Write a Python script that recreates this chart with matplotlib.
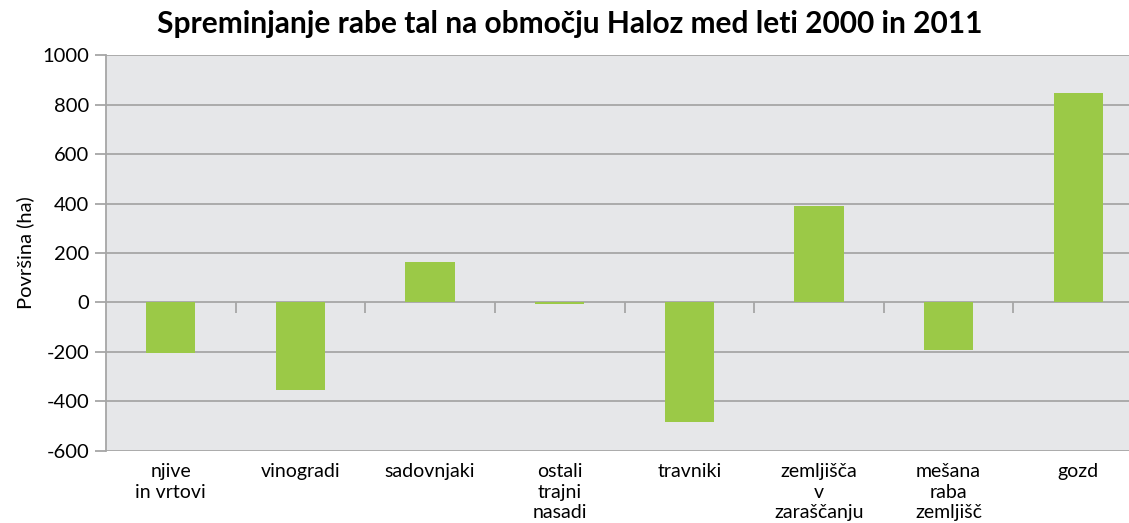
import numpy as np
import matplotlib.pyplot as plt

plt.rcParams['font.family'] = ['Lato', 'DejaVu Sans']
plt.rcParams['axes.unicode_minus'] = False

categories = ['njive\nin vrtovi', 'vinogradi', 'sadovnjaki', 'ostali\ntrajni\nnasadi',
              'travniki', 'zemljišča\nv\nzaraščanju', 'mešana\nraba\nzemljišč', 'gozd']
change_ha = [-205, -355, 162, -8, -484, 388, -190, 848]
y_ticks = [-600, -400, -200, 0, 200, 400, 600, 800, 1000]

fig = plt.figure(figsize=(11.29, 5.23), dpi=100)
# plot area runs past the right edge of the image, as in the original
ax = fig.add_axes([0.0939, 0.1377, 0.9185, 0.7571])
ax.set_facecolor('#e6e7e9')

x = np.arange(len(categories))
ax.bar(x, change_ha, width=0.38, color='#9bc947', zorder=3)

ax.set_xlim(-0.5, len(categories) - 0.5)
ax.set_ylim(y_ticks[0], y_ticks[-1])
ax.set_yticks(y_ticks)
ax.grid(True, axis='y', color='#a6a6a6', linewidth=1.3, zorder=1)

ax.set_xticks(x)
ax.set_xticklabels(categories, fontsize=14, linespacing=1.25, va='top')
ax.tick_params(axis='x', length=0, pad=9)
ax.tick_params(axis='y', length=8, color='#a6a6a6', width=1.3, labelsize=14.5, pad=4)

for side in ['top', 'right', 'bottom']:
    ax.spines[side].set_visible(False)
ax.spines['left'].set_color('#a6a6a6')
ax.spines['left'].set_linewidth(1.3)

# category separators on the zero line
zero_pos = (0 - y_ticks[0]) / (y_ticks[-1] - y_ticks[0])
sec = ax.secondary_xaxis(zero_pos)
sec.set_xticks(x[:-1] + 0.5)
sec.set_xticklabels([])
sec.tick_params(axis='x', direction='out', length=8, color='#a6a6a6', width=1.3)
sec.spines['bottom'].set_visible(False)
sec.spines['top'].set_visible(False)

ax.set_ylabel('Površina (ha)', fontsize=14.5, labelpad=6)
fig.text(0.505, 0.955, 'Spreminjanje rabe tal na območju Haloz med leti 2000 in 2011',
         ha='center', va='center', fontsize=21.5, fontweight='bold')

fig.savefig('out.png', dpi=100)
